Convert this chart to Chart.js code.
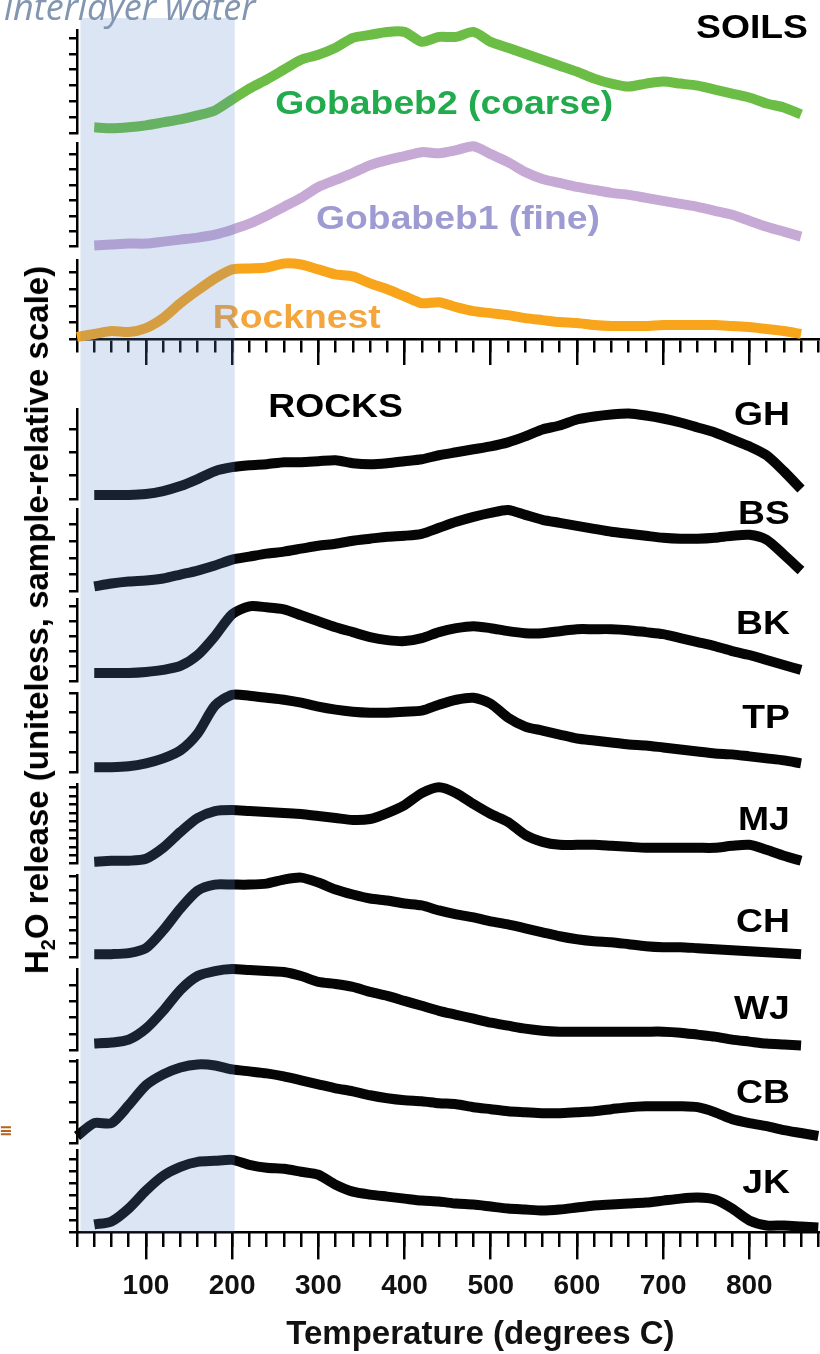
<!DOCTYPE html>
<html>
<head>
<meta charset="utf-8">
<title>H2O release by temperature</title>
<script src="https://cdn.jsdelivr.net/npm/chart.js@4.4.1/dist/chart.umd.min.js"></script>
<style>
  html, body { margin: 0; padding: 0; background: #fff; overflow: hidden; }
  #wrap { position: relative; width: 820px; height: 1354px; overflow: hidden; }
  #releaseChart { position: absolute; left: 0; top: 0; }
  .note { position: absolute; left: 4px; top: -18px; line-height: 1; font: italic 36px "Open Sans", sans-serif; color: #8295b1; white-space: nowrap; }
  .ytitle { position: absolute; left: 37px; top: 620px; transform: translate(-50%, -50%) rotate(-90deg); font: bold 33px "Liberation Sans", Arial, sans-serif; color: #000; white-space: nowrap; }
  .ytitle sub { font-size: 20px; vertical-align: -7px; line-height: 0; }
  .mark { position: absolute; left: -1px; top: 1121px; font: bold 16px "DejaVu Sans", sans-serif; color: #b5651d; }
</style>
</head>
<body>
<div id="wrap">
  <canvas id="releaseChart" width="820" height="1354"></canvas>
  <div class="note">interlayer water</div>
  <div class="ytitle">H<sub>2</sub>O release (uniteless, sample-relative scale)</div>
  <div class="mark">&#8801;</div>
</div>
<script>
// temperature grid (degrees C), shared by every trace
const temps = [20, 40, 60, 80, 100, 120, 140, 160, 180, 200, 220, 240, 260, 280, 300, 320, 340, 360, 380, 400, 420,
    440, 460, 480, 500, 520, 540, 560, 580, 600, 620, 640, 660, 680, 700, 720, 740, 760, 780, 800, 820, 840, 860, 880];

// H2O release, sample-relative units
const gobabeb2 = [null, 6, 5, 6, 8, 11, 14, 18, 23, 34, 45, 54, 64, 74, 79, 86, 96, 99, 102, 102, 92,
    97, 97, 102, 92, 86, 80, 74, 68, 62, 55, 50, 47, 50, 52, 50, 48, 44, 40, 36, 30, 26, 19, null];
const gobabeb1 = [null, 1, 2, 3, 3, 5, 7, 9, 12, 17, 23, 31, 40, 49, 60, 67, 74, 82, 87, 91, 95,
    94, 97, 101, 93, 85, 75, 68, 64, 60, 57, 54, 52, 49, 46, 43, 40, 36, 32, 26, 20, 15, 10, null];
const rocknest = [2, 5, 8, 7, 11, 21, 36, 49, 61, 70, 71, 72, 76, 75, 70, 65, 63, 56, 50, 43, 36,
    37, 32, 28, 26, 24, 21, 19, 17, 16, 14, 13, 13, 13, 14, 14, 14, 14, 13, 12, 10, 8, 5, null];
const gh = [null, 4, 4, 4, 5, 8, 13, 20, 28, 32, 34, 35, 37, 37, 38, 39, 36, 35, 36, 38, 40,
    44, 47, 50, 53, 57, 63, 70, 74, 80, 83, 85, 86, 84, 81, 77, 72, 67, 60, 53, 44, 28, 10, null];
const bs = [null, 5, 8, 10, 11, 13, 17, 21, 26, 32, 35, 38, 40, 43, 46, 48, 51, 53, 55, 56, 58,
    64, 70, 75, 79, 82, 77, 72, 69, 66, 63, 60, 58, 56, 54, 53, 53, 54, 56, 57, 52, 37, 21, null];
const bk = [null, 8, 8, 8, 9, 11, 15, 26, 45, 67, 75, 74, 72, 66, 60, 54, 49, 44, 41, 40, 43,
    49, 53, 55, 53, 50, 48, 48, 50, 52, 52, 52, 51, 49, 47, 43, 39, 35, 30, 26, 21, 16, 11, null];
const tp = [null, 5, 5, 6, 9, 14, 22, 39, 67, 78, 77, 75, 73, 70, 66, 63, 61, 60, 60, 61, 62,
    68, 73, 75, 69, 55, 46, 42, 38, 34, 32, 30, 28, 27, 25, 23, 21, 19, 18, 16, 14, 12, 9, null];
const mj = [null, 2, 3, 3, 5, 16, 32, 46, 53, 54, 53, 52, 51, 50, 48, 46, 44, 45, 51, 59, 71,
    77, 71, 60, 50, 42, 29, 22, 19, 19, 19, 18, 17, 16, 16, 16, 16, 16, 18, 19, 14, 8, 3, null];
const ch = [null, 3, 3, 4, 9, 27, 49, 67, 73, 73, 73, 74, 78, 80, 75, 68, 63, 59, 57, 54, 52,
    47, 43, 40, 36, 33, 29, 25, 21, 18, 16, 15, 13, 11, 10, 10, 9, 8, 7, 6, 5, 4, 3, null];
const wj = [null, 7, 8, 11, 22, 40, 61, 75, 80, 82, 81, 80, 79, 75, 69, 67, 64, 59, 55, 50, 45,
    40, 36, 32, 28, 25, 22, 20, 19, 19, 19, 19, 19, 19, 19, 18, 16, 14, 11, 9, 7, 6, 5, null];
const cb = [7, 20, 20, 38, 58, 69, 76, 79, 78, 74, 72, 70, 67, 63, 59, 55, 52, 48, 45, 43, 42,
    40, 39, 36, 34, 32, 31, 30, 30, 31, 32, 34, 36, 37, 37, 37, 36, 31, 24, 20, 17, 13, 10, 7];
const jk = [null, 8, 11, 24, 42, 57, 66, 71, 72, 73, 68, 65, 64, 61, 58, 48, 41, 38, 36, 34, 32,
    31, 29, 28, 26, 24, 23, 22, 23, 25, 27, 28, 29, 30, 32, 34, 35, 33, 24, 12, 7, 7, 6, 5];

const xTickLabels = [100, 200, 300, 400, 500, 600, 700, 800];
const xTitle = 'Temperature (degrees C)';
const shadeRange = [24, 203];   // interlayer water window

// layout of the stacked panels, top to bottom (spacers have no data)
const panels = [
    { id: 'sp0', h: 12 },
    { id: 'yG2', h: 104, step: 16, data: gobabeb2, color: '#6bbd45', name: 'Gobabeb2 (coarse)' },
    { id: 'sp1', h: 10 },
    { id: 'yG1', h: 104, step: 15.5, data: gobabeb1, color: '#c7a9d5', name: 'Gobabeb1 (fine)' },
    { id: 'sp2', h: 14 },
    { id: 'yRN', h: 79, step: 16.7, data: rocknest, color: '#f8a51b', name: 'Rocknest' },
    { id: 'sp3', h: 71 },
    { id: 'yGH', h: 90, step: 23.5, data: gh, color: '#050505', name: 'GH' },
    { id: 'sp4', h: 10 },
    { id: 'yBS', h: 83, step: 16.8, data: bs, color: '#050505', name: 'BS' },
    { id: 'sp5', h: 8 },
    { id: 'yBK', h: 82, step: 15, data: bk, color: '#050505', name: 'BK' },
    { id: 'sp6', h: 12 },
    { id: 'yTP', h: 80, step: 20, data: tp, color: '#050505', name: 'TP' },
    { id: 'sp7', h: 12 },
    { id: 'yMJ', h: 80, step: 8.5, data: mj, color: '#050505', name: 'MJ' },
    { id: 'sp8', h: 12 },
    { id: 'yCH', h: 82, step: 13.5, data: ch, color: '#050505', name: 'CH' },
    { id: 'sp9', h: 12 },
    { id: 'yWJ', h: 82, step: 16.5, data: wj, color: '#050505', name: 'WJ' },
    { id: 'sp10', h: 10 },
    { id: 'yCB', h: 83, step: 20.5, data: cb, color: '#050505', name: 'CB' },
    { id: 'sp11', h: 7 },
    { id: 'yJK', h: 83, step: 12.3, data: jk, color: '#050505', name: 'JK' }
];

// text placed in data space: t = temperature, v = panel value (baseline)
const labels = [
    { text: 'SOILS', axis: 'yG2', t: 868, v: 96, align: 'right', color: '#000' },
    { text: 'Gobabeb2 (coarse)', axis: 'yG2', t: 446, v: 19, align: 'center', color: '#22ab4c' },
    { text: 'Gobabeb1 (fine)', axis: 'yG1', t: 462, v: 18, align: 'center', color: '#9d9bd2' },
    { text: 'Rocknest', axis: 'yRN', t: 275, v: 11, align: 'center', color: '#f4a53c' },
    { text: 'ROCKS', axis: 'yGH', t: 320, v: 82, align: 'center', color: '#000' },
    { text: 'GH', axis: 'yGH', t: 847, v: 74, align: 'right', color: '#000' },
    { text: 'BS', axis: 'yBS', t: 847, v: 68, align: 'right', color: '#000' },
    { text: 'BK', axis: 'yBK', t: 847, v: 47, align: 'right', color: '#000' },
    { text: 'TP', axis: 'yTP', t: 847, v: 45, align: 'right', color: '#000' },
    { text: 'MJ', axis: 'yMJ', t: 847, v: 34, align: 'right', color: '#000' },
    { text: 'CH', axis: 'yCH', t: 847, v: 25, align: 'right', color: '#000' },
    { text: 'WJ', axis: 'yWJ', t: 847, v: 32, align: 'right', color: '#000' },
    { text: 'CB', axis: 'yCB', t: 847, v: 40, align: 'right', color: '#000' },
    { text: 'JK', axis: 'yJK', t: 847, v: 40, align: 'right', color: '#000' }
];

const FONT = "'Liberation Sans', Arial, sans-serif";

// labels are drawn first, then the blue window goes over everything inside the plot
const decorPlugin = {
    id: 'decor',
    afterDatasetsDraw(chart) {
        const { ctx, chartArea, scales } = chart;
        const xs = scales.x;
        ctx.save();
        ctx.font = 'bold 33px ' + FONT;
        ctx.textBaseline = 'alphabetic';
        labels.forEach(function(lab) {
            const px = xs.getPixelForValue(lab.t);
            const py = scales[lab.axis].getPixelForValue(lab.v);
            ctx.save();
            ctx.translate(px, py);
            ctx.scale(1.13, 1); // the original figure is a little stretched sideways
            ctx.fillStyle = lab.color;
            ctx.textAlign = lab.align;
            ctx.fillText(lab.text, 0, 0);
            ctx.restore();
        });

        const x0 = xs.getPixelForValue(shadeRange[0]);
        const x1 = xs.getPixelForValue(shadeRange[1]);
        ctx.fillStyle = 'rgba(90, 138, 205, 0.22)';
        ctx.fillRect(x0, chartArea.top, x1 - x0, chartArea.bottom - chartArea.top);
        ctx.restore();
    },
    afterDraw(chart) {
        // axis title sits a bit right of the plot centre in the original
        const { ctx, scales } = chart;
        ctx.save();
        ctx.font = 'bold 33px ' + FONT;
        ctx.fillStyle = '#111';
        ctx.textAlign = 'center';
        ctx.textBaseline = 'alphabetic';
        ctx.fillText(xTitle, scales.x.getPixelForValue(488), chart.height - 10);
        ctx.restore();
    }
};

const axisBlack = '#000';

const scales = {
    x: {
        type: 'linear',
        position: 'bottom',
        min: 20,
        max: 882,
        border: { display: true, color: axisBlack, width: 2.5 },
        grid: { drawOnChartArea: false, tickLength: 27, lineWidth: 2.5, color: axisBlack },
        ticks: {
            stepSize: 100,
            includeBounds: false,
            padding: 10,
            color: '#111',
            font: { family: FONT, size: 28, weight: 'bold' },
            callback: function(value) {
                return xTickLabels.includes(value) ? String(value) : '';
            }
        }
    },
    xMinor: {
        axis: 'x', type: 'linear', position: { yJK: 0 }, min: 20, max: 882,
        border: { display: false },
        grid: { drawOnChartArea: false, tickLength: 15, lineWidth: 2.5, color: axisBlack },
        ticks: { display: false, stepSize: 20, includeBounds: false }
    },
    xSoil: {
        axis: 'x', type: 'linear', position: { yRN: 0 }, min: 20, max: 882,
        border: { display: true, color: axisBlack, width: 2.5 },
        grid: { drawOnChartArea: false, tickLength: 12, lineWidth: 2.5, color: axisBlack },
        ticks: { display: false, stepSize: 20, includeBounds: false }
    },
    xSoilMajor: {
        axis: 'x', type: 'linear', position: { yRN: 0 }, min: 20, max: 882,
        border: { display: false },
        grid: { drawOnChartArea: false, tickLength: 26, lineWidth: 2.5, color: axisBlack },
        ticks: { display: false, stepSize: 100, includeBounds: false }
    }
};

panels.forEach(function(p, i) {
    const common = {
        axis: 'y',
        type: 'linear',
        position: 'left',
        stack: 'panels',
        stackWeight: p.h,
        weight: 100 - i   // left-side stacks are placed highest weight first
    };
    if (!p.data) {
        scales[p.id] = Object.assign(common, {
            min: 0, max: 1,
            border: { display: false },
            grid: { display: false, drawTicks: false },
            ticks: { display: false }
        });
    } else {
        scales[p.id] = Object.assign(common, {
            min: 0, max: p.h,
            border: { display: true, color: axisBlack, width: 2.5 },
            grid: { drawOnChartArea: false, tickLength: 8, lineWidth: 2.5, color: axisBlack },
            ticks: { display: false, stepSize: p.step, includeBounds: false }
        });
    }
});

const datasets = panels.filter(p => p.data).map(function(p) {
    return {
        label: p.name,
        data: temps.map((t, i) => ({ x: t, y: p.data[i] })),
        xAxisID: 'x',
        yAxisID: p.id,
        borderColor: p.color,
        borderWidth: 10,
        borderJoinStyle: 'round',
        pointRadius: 0,
        tension: 0.25,
        clip: false
    };
});

new Chart(document.getElementById('releaseChart').getContext('2d'), {
    type: 'line',
    data: { datasets: datasets },
    options: {
        responsive: false,
        animation: false,
        layout: { padding: { top: 18, left: 69, right: 0, bottom: 41 } },
        scales: scales,
        plugins: {
            legend: { display: false },
            tooltip: { enabled: false }
        }
    },
    plugins: [decorPlugin]
});
</script>
</body>
</html>
